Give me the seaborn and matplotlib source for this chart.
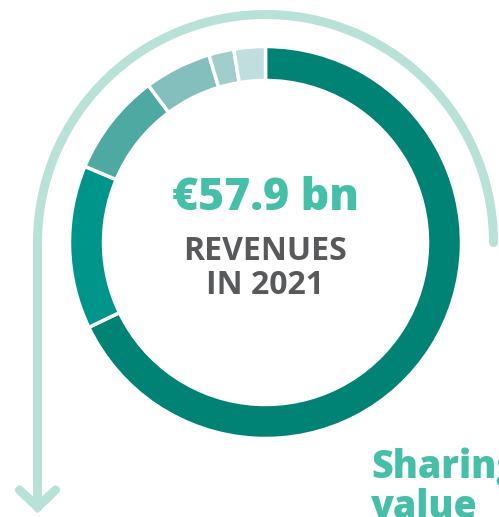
import numpy as np
import matplotlib
matplotlib.use("Agg")
import matplotlib.pyplot as plt
import seaborn as sns

# Revenue split in € bn (read from the ring, starting at 12 o'clock, clockwise)
segments = ["Seg A", "Seg B", "Seg C", "Seg D", "Seg E", "Seg F"]
revenues = [39.3, 7.8, 4.9, 3.2, 1.2, 1.5]
colors = ["#008374", "#00958A", "#4FA9A3", "#84BFBD", "#A1CDCB", "#C1DEDE"]

total_label = "€57.9 bn"
sub_lines = ["REVENUES", "IN 2021"]
side_lines = ["Sharing", "value"]

sns.set_style("white")
plt.rcParams["font.family"] = ["Open Sans", "DejaVu Sans"]

W, H = 499, 517
fig = plt.figure(figsize=(W / 100, H / 100), dpi=100)
ax = fig.add_axes([0, 0, 1, 1])

cx, cy = 265.5, H - 242.5
r_out, ring = 196, 34

ax.pie(revenues, colors=colors, startangle=90, counterclock=False,
       radius=r_out, center=(cx, cy), frame=True,
       wedgeprops=dict(width=ring, edgecolor="white", linewidth=2.5))
ax.set_xlim(0, W)
ax.set_ylim(0, H)
ax.set_aspect("equal")
ax.axis("off")

# light arrow arc around the ring
arc_col = "#B8E1D8"
r_arc = 228
t = np.linspace(0, np.pi, 200)
ax.plot(cx + r_arc * np.cos(t), cy + r_arc * np.sin(t), color=arc_col,
        lw=6.5, solid_capstyle="round")
x_left = cx - r_arc
tip_y = H - 507
ax.plot([x_left, x_left], [cy, tip_y], color=arc_col, lw=6.5,
        solid_capstyle="round")
ax.plot([x_left - 18, x_left, x_left + 18], [tip_y + 17, tip_y, tip_y + 17],
        color=arc_col, lw=6.5, solid_capstyle="round", solid_joinstyle="miter")

# centre text
ax.text(cx, H - 198, total_label, ha="center", va="center", fontsize=32,
        fontweight=800, color="#45BFA8")
ax.text(cx, H - 251, sub_lines[0], ha="center", va="center", fontsize=23,
        fontweight="bold", color="#58595B")
ax.text(cx, H - 285, sub_lines[1], ha="center", va="center", fontsize=23,
        fontweight="bold", color="#58595B")

ax.text(371, H - 478, side_lines[0], ha="left", va="baseline", fontsize=27,
        fontweight=800, color="#45BFA8")
ax.text(371, H - 518, side_lines[1], ha="left", va="baseline", fontsize=27,
        fontweight=800, color="#45BFA8")

fig.savefig("out.png", dpi=100)
